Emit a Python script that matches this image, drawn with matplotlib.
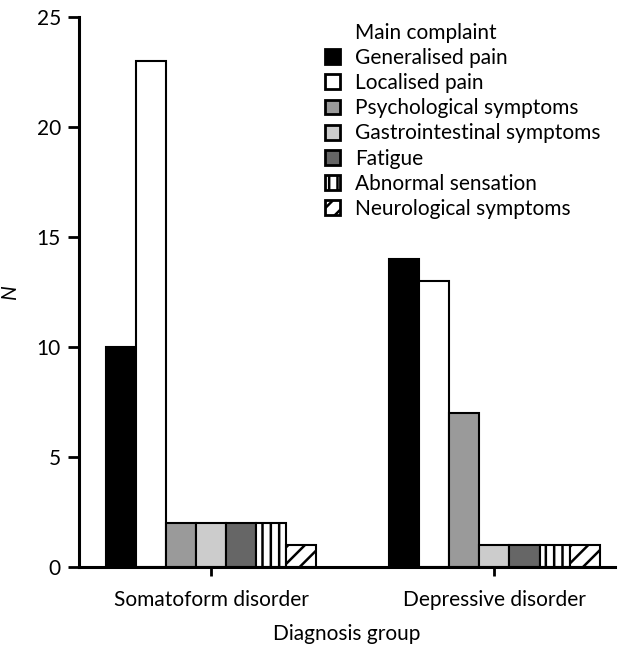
import matplotlib
matplotlib.use("Agg")
import matplotlib.pyplot as plt
from matplotlib.patches import Patch
import numpy as np

plt.rcParams['font.family'] = ['Lato', 'DejaVu Sans']
plt.rcParams['hatch.linewidth'] = 1.8

# daten
groups = ["Somatoform disorder", "Depressive disorder"]
complaints = ["Generalised pain", "Localised pain", "Psychological symptoms",
              "Gastrointestinal symptoms", "Fatigue", "Abnormal sensation",
              "Neurological symptoms"]
somatoform = [10, 23, 2, 2, 2, 2, 1]
depressive = [14, 13, 7, 1, 1, 1, 1]
colors = ["#000000", "#ffffff", "#9a9a9a", "#cccccc", "#666666", "#ffffff", "#ffffff"]
hatches = ["", "", "", "", "", "||", "//"]

fig = plt.figure(figsize=(6.31, 6.55), dpi=100)
ax = fig.add_axes([0.125, 0.1344, 0.85, 0.8396])

x = np.arange(len(groups))
w = 0.106
for i, name in enumerate(complaints):
    vals = [somatoform[i], depressive[i]]
    ax.bar(x + (i - 3) * w, vals, w, color=colors[i], edgecolor="black",
           linewidth=1.5, hatch=hatches[i], label=name)

ax.set_xlim(-0.466, 1.426)
ax.set_ylim(0, 25)
ax.set_yticks([0, 5, 10, 15, 20, 25])
ax.set_xticks(x)
ax.set_xticklabels(groups)
ax.spines['top'].set_visible(False)
ax.spines['right'].set_visible(False)
ax.spines['left'].set_linewidth(2.2)
ax.spines['bottom'].set_linewidth(2.2)
ax.tick_params(axis='y', length=8, width=2, labelsize=15, pad=5)
ax.tick_params(axis='x', length=6.5, width=2, labelsize=15, pad=10)
ax.set_ylabel("N", fontstyle="italic", fontsize=15, labelpad=12)
ax.set_xlabel("Diagnosis group", fontsize=15, labelpad=10)

# titel als leere zeile im legend
handles, labels = ax.get_legend_handles_labels()
blank = Patch(facecolor="none", edgecolor="none")
leg = ax.legend([blank] + handles, ["Main complaint"] + labels,
                loc="upper left", bbox_to_anchor=(325 / 631, 1 - 23 / 655),
                bbox_transform=fig.transFigure, frameon=False, fontsize=15,
                handlelength=0.72, handleheight=0.72, labelspacing=0.245,
                handletextpad=0.72, borderaxespad=0, borderpad=0)
for p in leg.get_patches():
    p.set_linewidth(2)

fig.savefig("out.png", dpi=100)
